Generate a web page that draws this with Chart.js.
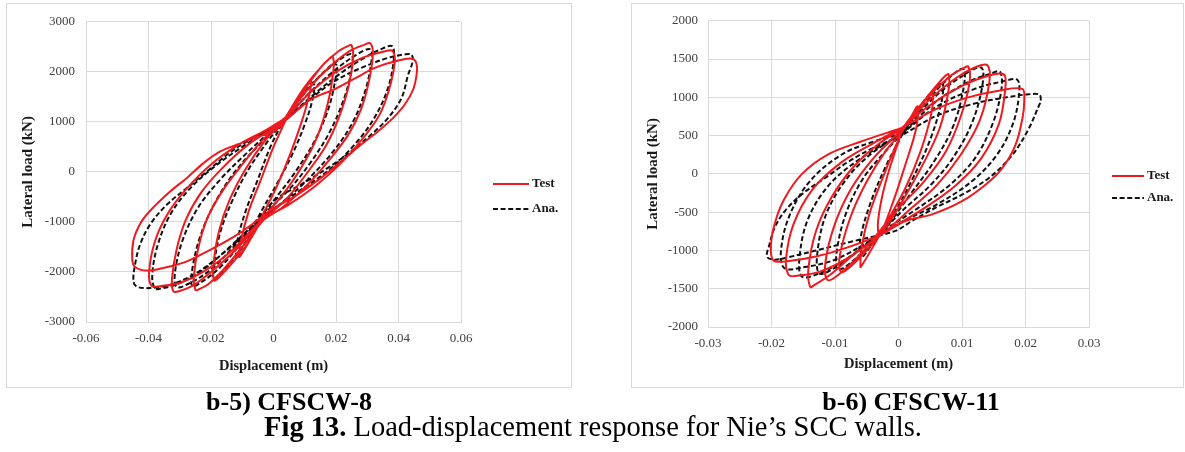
<!DOCTYPE html>
<html>
<head>
<meta charset="utf-8">
<script src="https://cdn.jsdelivr.net/npm/chart.js@4.4.1/dist/chart.umd.min.js"></script>
<style>
  html, body { margin: 0; padding: 0; background: #fff; width: 1185px; height: 452px; overflow: hidden;
    font-family: "Liberation Serif", "Times New Roman", serif; }
  .panel { position: absolute; }
  .frame { position: absolute; border: 1px solid #d9d9d9; box-sizing: border-box; pointer-events: none; }
  .leg { position: absolute; font-weight: bold; font-size: 13px; color: #1a1a1a; white-space: nowrap; line-height: 14px; }
  .leg svg { vertical-align: middle; margin-right: 3px; }
  .cap { position: absolute; white-space: nowrap; color: #000; line-height: 26px; text-align: center; }
</style>
</head>
<body>

<div class="panel" style="left:6px;top:3px;width:565px;height:384px;"><canvas id="wall8" width="565" height="384"></canvas></div>
<div class="frame" style="left:6px;top:3px;width:566px;height:385px;"></div>
<div class="leg" style="left:493px;top:176px;"><svg width="36" height="4"><line x1="0" y1="2" x2="36" y2="2" stroke="#ee1a1f" stroke-width="2"/></svg>Test</div>
<div class="leg" style="left:493px;top:201px;"><svg width="36" height="4"><line x1="0" y1="2" x2="36" y2="2" stroke="#111" stroke-width="2" stroke-dasharray="5,2.6"/></svg>Ana.</div>

<div class="panel" style="left:631px;top:3px;width:552px;height:384px;"><canvas id="wall11" width="552" height="384"></canvas></div>
<div class="frame" style="left:631px;top:3px;width:553px;height:385px;"></div>
<div class="leg" style="left:1112px;top:168px;"><svg width="32" height="4"><line x1="0" y1="2" x2="32" y2="2" stroke="#ee1a1f" stroke-width="2"/></svg>Test</div>
<div class="leg" style="left:1112px;top:190px;"><svg width="32" height="4"><line x1="0" y1="2" x2="32" y2="2" stroke="#111" stroke-width="2" stroke-dasharray="5,2.6"/></svg>Ana.</div>

<div class="cap" style="left:179px;width:220px;top:389px;font-size:26px;font-weight:bold;">b-5) CFSCW-8</div>
<div class="cap" style="left:801px;width:220px;top:389px;font-size:26px;font-weight:bold;">b-6) CFSCW-11</div>
<div class="cap" style="left:193px;width:800px;top:414px;font-size:28.5px;"><b>Fig 13.</b> Load-displacement response for Nie’s SCC walls.</div>

<script>
// ---- CFSCW-8 : displacement (m) vs lateral load (kN), one closed cycle per entry ----
const wall8Test = [
  [[0.004,1050],[0.008,1500],[0.011,1780],[0.012,1850],[0.0115,1550],[0.009,1000],[0.005,300],[0.001,-300],[-0.003,-800],[-0.007,-1300],[-0.010,-1620],[-0.011,-1700],[-0.0105,-1400],[-0.008,-800],[-0.004,-150],[0.000,500],[0.004,1050]],
  [[0.004,1080],[0.010,1650],[0.015,2080],[0.018,2270],[0.019,2300],[0.0192,2050],[0.0175,1400],[0.014,700],[0.009,100],[0.003,-450],[-0.003,-900],[-0.009,-1500],[-0.015,-1950],[-0.018,-2140],[-0.019,-2170],[-0.0193,-1900],[-0.0175,-1200],[-0.014,-550],[-0.009,50],[-0.003,600],[0.004,1080]],
  [[0.004,1100],[0.010,1700],[0.016,2150],[0.021,2420],[0.024,2520],[0.025,2530],[0.0255,2300],[0.024,1700],[0.021,1100],[0.017,550],[0.011,0],[0.004,-550],[-0.003,-950],[-0.010,-1500],[-0.016,-1950],[-0.021,-2250],[-0.024,-2350],[-0.025,-2360],[-0.0255,-2100],[-0.024,-1500],[-0.021,-900],[-0.016,-350],[-0.010,150],[-0.004,600],[0.004,1100]],
  [[0.004,1100],[0.011,1650],[0.018,2100],[0.024,2400],[0.029,2540],[0.031,2570],[0.0318,2350],[0.0305,1800],[0.028,1250],[0.024,750],[0.018,250],[0.011,-250],[0.003,-700],[-0.004,-1000],[-0.012,-1550],[-0.020,-2000],[-0.026,-2280],[-0.030,-2380],[-0.032,-2390],[-0.0325,-2150],[-0.031,-1550],[-0.028,-950],[-0.023,-400],[-0.016,100],[-0.008,550],[0.000,880],[0.004,1100]],
  [[0.004,1080],[0.012,1600],[0.020,2000],[0.028,2270],[0.035,2400],[0.038,2420],[0.0388,2200],[0.037,1650],[0.034,1150],[0.029,700],[0.022,200],[0.014,-250],[0.005,-650],[-0.004,-980],[-0.013,-1550],[-0.022,-1980],[-0.030,-2220],[-0.036,-2280],[-0.039,-2280],[-0.0398,-2000],[-0.038,-1400],[-0.034,-850],[-0.028,-350],[-0.020,150],[-0.011,550],[-0.002,850],[0.004,1080]],
  [[0.0045,1070],[0.012,1450],[0.0195,1650],[0.027,1900],[0.0324,2080],[0.0399,2227],[0.0445,2260],[0.0458,2150],[0.0458,1947],[0.0447,1647],[0.042,1347],[0.0383,1080],[0.0335,813],[0.0281,547],[0.0217,213],[0.0152,-120],[0.0077,-453],[0.0002,-720],[-0.0041,-920],[-0.0116,-1253],[-0.0191,-1520],[-0.0277,-1787],[-0.0352,-1920],[-0.0405,-1973],[-0.0443,-1900],[-0.0452,-1750],[-0.0448,-1366],[-0.0426,-1030],[-0.0394,-772],[-0.033,-387],[-0.0277,-120],[-0.0223,180],[-0.0169,413],[-0.0116,547],[-0.0062,680],[0.0002,813],[0.0045,1070]]
];
const wall8Ana = [
  [[0.003,1000],[0.008,1450],[0.012,1720],[0.013,1750],[0.0125,1450],[0.010,950],[0.006,350],[0.001,-250],[-0.004,-800],[-0.008,-1300],[-0.011,-1600],[-0.012,-1650],[-0.0115,-1350],[-0.009,-800],[-0.005,-150],[-0.001,500],[0.003,1000]],
  [[0.003,1000],[0.010,1600],[0.016,1980],[0.020,2150],[0.0198,1850],[0.0175,1250],[0.013,600],[0.007,0],[0.001,-500],[-0.004,-900],[-0.010,-1500],[-0.016,-1980],[-0.019,-2150],[-0.019,-1850],[-0.017,-1200],[-0.013,-550],[-0.008,50],[-0.002,600],[0.003,1000]],
  [[0.003,1000],[0.010,1580],[0.017,2050],[0.022,2280],[0.025,2350],[0.025,2050],[0.0225,1450],[0.018,800],[0.012,200],[0.005,-350],[-0.003,-850],[-0.010,-1400],[-0.017,-1900],[-0.023,-2200],[-0.026,-2280],[-0.026,-1950],[-0.0235,-1300],[-0.019,-650],[-0.013,-50],[-0.006,450],[0.003,1000]],
  [[0.003,1000],[0.011,1550],[0.019,2000],[0.026,2320],[0.031,2450],[0.0312,2150],[0.029,1550],[0.025,950],[0.019,400],[0.011,-150],[0.003,-600],[-0.004,-950],[-0.012,-1450],[-0.020,-1950],[-0.027,-2230],[-0.031,-2300],[-0.0315,-2000],[-0.029,-1350],[-0.024,-700],[-0.017,-150],[-0.009,350],[-0.002,750],[0.003,1000]],
  [[0.003,1000],[0.012,1500],[0.021,1950],[0.029,2280],[0.035,2470],[0.038,2510],[0.0385,2250],[0.0365,1650],[0.032,1050],[0.026,550],[0.018,50],[0.009,-350],[0.000,-750],[-0.005,-980],[-0.014,-1500],[-0.023,-1980],[-0.031,-2250],[-0.036,-2330],[-0.038,-2330],[-0.0388,-2050],[-0.037,-1450],[-0.033,-850],[-0.027,-350],[-0.019,100],[-0.010,500],[-0.002,820],[0.003,1000]],
  [[0.0034,1013],[0.0109,1413],[0.0195,1813],[0.0281,2080],[0.0367,2280],[0.042,2347],[0.0442,2340],[0.0445,2200],[0.0431,1947],[0.041,1480],[0.0367,1080],[0.0313,747],[0.0249,413],[0.0174,80],[0.0088,-253],[0.0013,-520],[-0.0041,-870],[-0.0105,-1320],[-0.018,-1720],[-0.0255,-2053],[-0.033,-2253],[-0.0395,-2320],[-0.0435,-2300],[-0.0448,-2200],[-0.0443,-1853],[-0.0427,-1453],[-0.0395,-1053],[-0.0341,-653],[-0.0277,-320],[-0.0212,13],[-0.0148,347],[-0.0084,613],[-0.0019,813],[0.0034,1013]]
];
const wall8XTicks = ['-0.06', '-0.04', '-0.02', '0', '0.02', '0.04', '0.06'];
const wall8YTicks = ['-3000', '-2000', '-1000', '0', '1000', '2000', '3000'];

// ---- CFSCW-11 ----
const wall11Test = [
  [[0.0005,550],[0.002,750],[0.003,880],[0.0028,600],[0.001,100],[-0.001,-400],[-0.003,-800],[-0.0032,-600],[-0.002,-100],[0.0005,550]],
  [[0.0005,550],[0.003,850],[0.0052,1040],[0.0054,1050],[0.0052,800],[0.0035,300],[0.001,-200],[-0.002,-650],[-0.004,-950],[-0.0058,-1200],[-0.006,-1216],[-0.0058,-950],[-0.0045,-500],[-0.002,50],[0.0005,550]],
  [[0.0005,550],[0.004,950],[0.007,1250],[0.0079,1300],[0.0078,1050],[0.0065,600],[0.004,150],[0.001,-300],[-0.002,-700],[-0.005,-1000],[-0.0078,-1230],[-0.0091,-1280],[-0.0092,-1050],[-0.0075,-550],[-0.005,-100],[-0.002,300],[0.0005,550]],
  [[0.0005,580],[0.004,950],[0.008,1270],[0.0102,1380],[0.011,1400],[0.0112,1200],[0.0098,750],[0.0075,300],[0.004,-100],[0.000,-450],[-0.003,-750],[-0.006,-1050],[-0.0095,-1320],[-0.0112,-1385],[-0.0115,-1150],[-0.010,-650],[-0.0075,-200],[-0.004,200],[0.0005,580]],
  [[0.0005,590],[0.005,980],[0.009,1250],[0.012,1390],[0.014,1420],[0.0143,1200],[0.0128,700],[0.0098,250],[0.006,-150],[0.002,-450],[-0.0025,-780],[-0.007,-1050],[-0.0105,-1300],[-0.0132,-1450],[-0.0139,-1476],[-0.0142,-1250],[-0.013,-750],[-0.0105,-300],[-0.007,100],[-0.003,400],[0.0005,590]],
  [[0.0005,600],[0.005,900],[0.010,1150],[0.014,1280],[0.0166,1300],[0.0168,1100],[0.0158,650],[0.013,200],[0.009,-150],[0.004,-450],[-0.0025,-780],[-0.008,-1100],[-0.0125,-1280],[-0.016,-1330],[-0.0173,-1320],[-0.0177,-1100],[-0.0165,-650],[-0.0135,-200],[-0.009,150],[-0.004,400],[0.0005,600]],
  [[0.0005,600],[0.006,850],[0.011,1000],[0.016,1090],[0.0195,1110],[0.0198,950],[0.0195,718],[0.0184,374],[0.0163,73],[0.0137,-142],[0.010,-357],[0.0053,-529],[0.0011,-615],[-0.0025,-780],[-0.008,-960],[-0.013,-1080],[-0.0175,-1140],[-0.0197,-1130],[-0.0201,-950],[-0.0195,-650],[-0.018,-330],[-0.0152,0],[-0.0112,250],[-0.006,420],[0.0005,600]]
];
const wall11Ana = [
  [[0.0005,500],[0.004,950],[0.0065,1180],[0.007,1200],[0.0068,950],[0.005,450],[0.002,-100],[-0.001,-550],[-0.004,-900],[-0.006,-1100],[-0.006,-850],[-0.0045,-400],[-0.002,100],[0.0005,500]],
  [[0.0005,520],[0.004,900],[0.0075,1220],[0.0102,1372],[0.0102,1100],[0.0085,600],[0.0055,150],[0.002,-250],[-0.002,-700],[-0.006,-1050],[-0.0095,-1250],[-0.0097,-1000],[-0.0082,-500],[-0.0055,-50],[-0.002,300],[0.0005,520]],
  [[0.0005,520],[0.005,950],[0.0095,1250],[0.013,1390],[0.0132,1150],[0.0115,650],[0.0085,200],[0.005,-150],[0.001,-450],[-0.003,-780],[-0.007,-1050],[-0.0105,-1250],[-0.0125,-1300],[-0.0128,-1050],[-0.0115,-550],[-0.0085,-100],[-0.0045,250],[0.0005,520]],
  [[0.0005,520],[0.006,950],[0.011,1200],[0.0145,1310],[0.016,1333],[0.0162,1100],[0.0148,650],[0.012,200],[0.008,-150],[0.003,-450],[-0.003,-780],[-0.008,-1100],[-0.0125,-1300],[-0.0152,-1342],[-0.0156,-1100],[-0.0143,-600],[-0.011,-150],[-0.006,200],[0.0005,520]],
  [[0.0005,520],[0.006,880],[0.012,1110],[0.0165,1210],[0.0187,1230],[0.019,1050],[0.018,650],[0.0155,250],[0.0115,-100],[0.006,-400],[0.000,-650],[-0.004,-850],[-0.010,-1120],[-0.015,-1220],[-0.018,-1230],[-0.0185,-1000],[-0.0172,-550],[-0.014,-100],[-0.009,250],[-0.004,420],[0.0005,520]],
  [[0.0005,503],[0.006,760],[0.012,920],[0.017,1000],[0.0205,1040],[0.0222,1035],[0.0224,950],[0.0221,890],[0.0205,589],[0.0179,245],[0.0142,-56],[0.010,-271],[0.0058,-443],[0.0021,-615],[-0.0005,-744],[-0.0068,-873],[-0.013,-1000],[-0.0174,-1090],[-0.0195,-1120],[-0.0207,-1083],[-0.0203,-916],[-0.0195,-701],[-0.0179,-486],[-0.0153,-271],[-0.0116,-56],[-0.0079,159],[-0.0042,331],[0.0005,503]]
];
const wall11XTicks = ['-0.03', '-0.02', '-0.01', '0', '0.01', '0.02', '0.03'];
const wall11YTicks = ['-2000', '-1500', '-1000', '-500', '0', '500', '1000', '1500', '2000'];

const TEST_RED = '#ee1a1f';
const ANA_BLACK = '#111111';
const GRID = '#d9d9d9';
const SERIF = '"Liberation Serif", "Times New Roman", serif';

// join the cycles into one continuous loading history
function history(cycles) {
  const pts = [];
  cycles.forEach(c => c.forEach(p => pts.push({ x: p[0], y: p[1] })));
  return pts;
}

function tickAxis(labels, extra) {
  const values = labels.map(Number);
  return Object.assign({
    type: 'linear',
    min: values[0],
    max: values[values.length - 1],
    afterBuildTicks: s => { s.ticks = values.map(v => ({ value: v })); },
    grid: { color: GRID, lineWidth: 1, drawTicks: false },
    border: { color: GRID, width: 1 },
  }, extra, {
    ticks: Object.assign({
      color: '#404040',
      font: { family: SERIF, size: 13 },
      maxRotation: 0,
      autoSkip: false,
      callback: (v, i) => labels[i]
    }, extra.ticks || {})
  });
}

function makeChart(id, test, ana, xLabels, yLabels, box) {
  new Chart(document.getElementById(id), {
    type: 'scatter',
    data: {
      datasets: [
        { label: 'Test', data: history(test), showLine: true, borderColor: TEST_RED, borderWidth: 2,
          pointRadius: 0, tension: 0.35, fill: false },
        { label: 'Ana.', data: history(ana), showLine: true, borderColor: ANA_BLACK, borderWidth: 2,
          borderDash: [5, 2.6], pointRadius: 0, tension: 0.35, fill: false }
      ]
    },
    options: {
      responsive: false,
      animation: false,
      events: [],
      layout: { padding: { left: 0, top: box.top, right: box.right, bottom: 0 } },
      plugins: { legend: { display: false }, tooltip: { enabled: false } },
      scales: {
        x: tickAxis(xLabels, {
          position: 'bottom',
          afterFit: s => { s.height = box.xh; },
          ticks: { padding: box.xpad },
          title: { display: true, text: 'Displacement (m)', color: '#1a1a1a',
                   font: { family: SERIF, size: 14.5, weight: 'bold' }, padding: { top: 0, bottom: box.xtp } }
        }),
        y: tickAxis(yLabels, {
          position: 'left',
          afterFit: s => { s.width = box.yw; },
          ticks: { padding: box.ypad },
          title: { display: true, text: 'Lateral load (kN)', color: '#1a1a1a',
                   font: { family: SERIF, size: 15, weight: 'bold' }, padding: { top: box.ytp, bottom: 0 } }
        })
      }
    }
  });
}

makeChart('wall8', wall8Test, wall8Ana, wall8XTicks, wall8YTicks,
  { top: 16, right: 110, xh: 65, yw: 80, xpad: 9, ypad: 11, xtp: 12, ytp: 13 });
makeChart('wall11', wall11Test, wall11Ana, wall11XTicks, wall11YTicks,
  { top: 15, right: 94, xh: 60, yw: 77, xpad: 9, ypad: 10, xtp: 14, ytp: 13 });
</script>
</body>
</html>
